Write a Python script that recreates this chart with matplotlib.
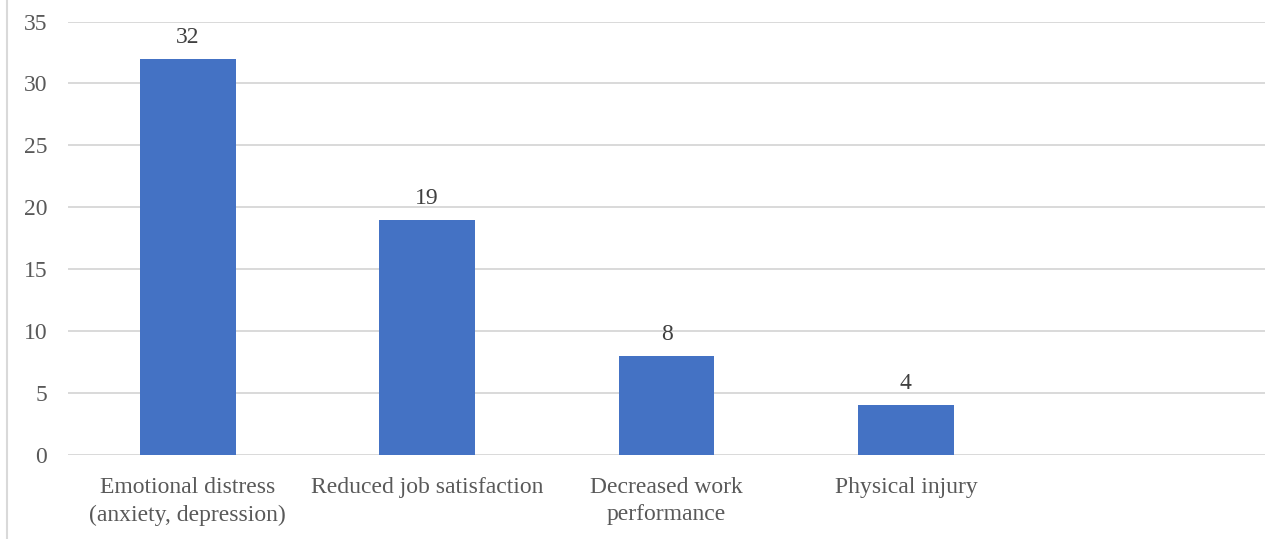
import matplotlib.pyplot as plt
from matplotlib.lines import Line2D

categories = ['Emotional distress\n(anxiety, depression)', 'Reduced job satisfaction',
              'Decreased work\nperformance', 'Physical injury', '']
values = [32, 19, 8, 4, None]

plt.rcParams['font.family'] = 'Liberation Serif'

fig = plt.figure(figsize=(12.65, 5.39), dpi=100)
ax = fig.add_axes([68/1265, 1 - 455/539, (1265 - 68)/1265, (455 - 21.5)/539])

pos = list(range(len(categories)))
bar_vals = [v if v is not None else 0 for v in values]
bars = ax.bar(pos, bar_vals, width=0.4, color='#4472C4', zorder=3)

for b, v in zip(bars, values):
    if v is None:
        continue
    ax.annotate(str(v), (b.get_x() + b.get_width()/2, v), xytext=(0, 8),
                textcoords='offset points', ha='center', va='bottom',
                fontsize=17, color='#404040')

ax.set_xlim(-0.5, len(categories) - 0.5)
ax.set_ylim(0, 35)
ax.set_yticks(range(0, 36, 5))
ax.set_xticks(pos)
ax.set_xticklabels(categories, fontsize=17, color='#595959', linespacing=1.42)
ax.tick_params(axis='y', labelsize=17, labelcolor='#595959', length=0, pad=15)
ax.tick_params(axis='x', length=0, pad=15.5)
ax.grid(axis='y', color='#d9d9d9', linewidth=1.4, zorder=0)
for s in ax.spines.values():
    s.set_visible(False)

# outer chart border on the left
fig.add_artist(Line2D([6.5/1265, 6.5/1265], [0, 1], color='#d9d9d9', linewidth=1.5))

fig.savefig('out.png', dpi=100)
